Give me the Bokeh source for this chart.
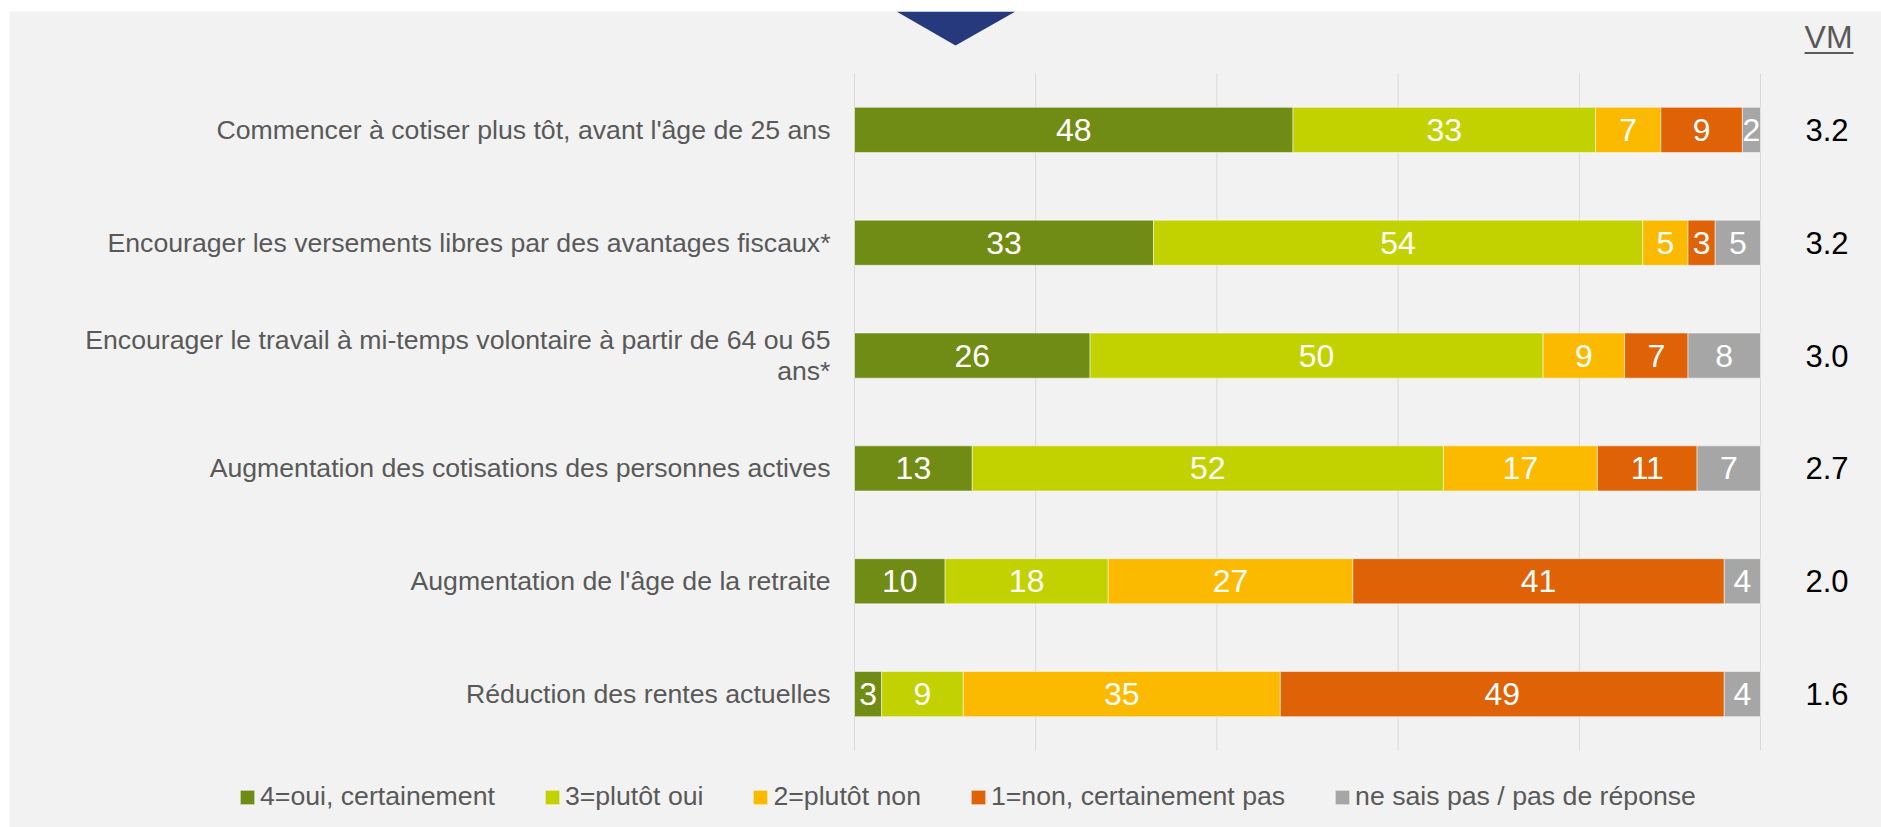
from bokeh.plotting import figure
from bokeh.models import (ColumnDataSource, Range1d, Legend, LegendItem)
from bokeh.core.properties import value
from bokeh.embed import file_html
from bokeh.resources import INLINE
import numpy as np

# ---------------- data ----------------
categories = [
    "Commencer à cotiser plus tôt, avant l'âge de 25 ans",
    "Encourager les versements libres par des avantages fiscaux*",
    "Encourager le travail à mi-temps volontaire à partir de 64 ou 65\nans*",
    "Augmentation des cotisations des personnes actives",
    "Augmentation de l'âge de la retraite",
    "Réduction des rentes actuelles",
]
series_names = ["4=oui, certainement", "3=plutôt oui", "2=plutôt non",
                "1=non, certainement pas", "ne sais pas / pas de réponse"]
oui_certainement = [48.4, 33, 26, 13, 10, 3]
plutot_oui = [33.4, 54, 50, 52, 18, 9]
plutot_non = [7.2, 5, 9, 17, 27, 35]
non_certainement = [9.0, 3, 7, 11, 41, 49]
ne_sais_pas = [2.0, 5, 8, 7, 4, 4]
vm_values = ["3.2", "3.2", "3.0", "2.7", "2.0", "1.6"]
vm_header = "VM"
x_ticks = [0, 20, 40, 60, 80, 100]

colors = ["#718c14", "#c2d200", "#fbba00", "#df6206", "#a6a6a6"]
FONT = "Liberation Sans"
BG = "#f2f2f2"

n = len(categories)
ypos = [n - 0.5 - i for i in range(n)]  # first category at top

series_values = [oui_certainement, plutot_oui, plutot_non, non_certainement, ne_sais_pas]
keys = ["s0", "s1", "s2", "s3", "s4"]
data = dict(y=ypos)
for k, v in zip(keys, series_values):
    data[k] = v
source = ColumnDataSource(data)

# ---------------- figure ----------------
# canvas 1872x816 placed at (9, 11); the plotting frame fills the whole canvas
W, H = 1872, 816
PX_X = 9.06      # pixels per percent
PX_Y = 677 / n   # pixels per category
X0 = 845         # canvas x of 0 %
Y0 = 739         # canvas y (from top) of the bottom of the category area
p = figure(width=W, height=H, margin=(11, 0, 0, 9),
           output_backend="svg", toolbar_location=None,
           x_range=Range1d(-X0 / PX_X, (W - X0) / PX_X),
           y_range=Range1d(-(H - Y0) / PX_Y, Y0 / PX_Y),
           min_border_left=0, min_border_right=0, min_border_top=0, min_border_bottom=0)
p.background_fill_color = BG
p.border_fill_color = BG
p.outline_line_color = None
p.xaxis.visible = False
p.yaxis.visible = False
p.xgrid.grid_line_color = None
p.ygrid.grid_line_color = None

# vertical grid lines limited to the category area
p.segment(x0=x_ticks, x1=x_ticks, y0=0, y1=n, line_color="#d9d9d9", line_width=1)

renderers = p.hbar_stack(keys, y="y", height=0.4, color=colors, source=source,
                         line_color="white", line_alpha=0.5, line_width=1)

# segment labels
lx, ly, lt = [], [], []
vals = np.array(series_values, dtype=float)
cum = np.cumsum(vals, axis=0)
for si in range(vals.shape[0]):
    for ci in range(n):
        v = vals[si, ci]
        lx.append(cum[si, ci] - v / 2)
        ly.append(ypos[ci])
        lt.append(f"{v:.0f}")
p.text(x=lx, y=ly, text=lt, text_color="white", text_align="center", text_baseline="middle",
       text_font=value(FONT), text_font_size=value("32px"))

# category labels
p.text(x=[-24 / PX_X] * n, y=ypos, text=categories, text_color="#595959", text_align="right",
       text_baseline="middle", text_font=value(FONT), text_font_size=value("26.67px"),
       text_line_height=1.05)

# VM column
vm_x = (1805 - 854) / PX_X
p.text(x=[vm_x] * n, y=ypos, text=vm_values, text_color="black", text_align="left",
       text_baseline="middle", text_font=value(FONT), text_font_size=value("31px"))
p.text(x=[vm_x - 0.1], y=[n + 37 / PX_Y], text=[vm_header], text_color="#595959",
       text_align="left", text_baseline="middle", text_font=value(FONT),
       text_font_size=value("32px"))
p.segment(x0=[vm_x - 0.1], x1=[vm_x + 48 / PX_X], y0=[n + 20.5 / PX_Y], y1=[n + 20.5 / PX_Y],
          line_color="#595959", line_width=2)

# decorative triangle at the top
top = Y0 / PX_Y
p.patch(x=[42 / PX_X, 161 / PX_X, 101 / PX_X],
        y=[top, top, n + 28 / PX_Y],
        fill_color="#27397d", line_color=None)

# legend
legend = Legend(items=[LegendItem(label=s, renderers=[r]) for s, r in zip(series_names, renderers)],
                orientation="horizontal", location=(229, 15))
legend.glyph_width = 18
legend.glyph_height = 18
legend.label_standoff = 4
legend.spacing = 48
legend.padding = 0
legend.margin = 0
legend.border_line_color = None
legend.background_fill_alpha = 0
legend.label_text_font = FONT
legend.label_text_font_size = "26.67px"
legend.label_text_color = "#595959"
p.add_layout(legend, "center")

open("out.html", "w").write(file_html(p, INLINE))
